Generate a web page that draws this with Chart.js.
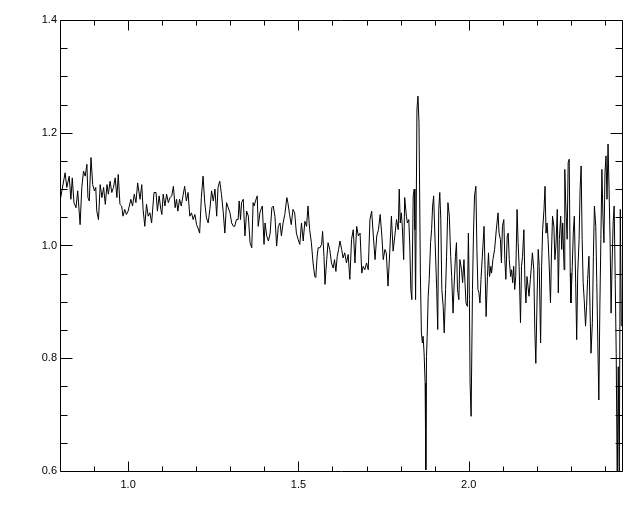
<!DOCTYPE html>
<html>
<head>
<meta charset="utf-8">
<script src="https://cdn.jsdelivr.net/npm/chart.js"></script>
<style>
html, body { margin: 0; padding: 0; background: #fff; }
</style>
</head>
<body>
<canvas id="myChart" width="640" height="512"></canvas>
<script>
// spectrum
const wave = [
  0.800, 0.815, 0.820, 0.827, 0.832, 0.836, 0.841, 0.847, 0.852, 0.859, 0.864, 0.869, 0.874, 0.879, 0.882, 0.886,
  0.891, 0.896, 0.901, 0.905, 0.908, 0.913, 0.918, 0.923, 0.928, 0.933, 0.938, 0.942, 0.947, 0.952, 0.957, 0.962,
  0.967, 0.971, 0.976, 0.981, 0.985, 0.990, 0.995, 1.000, 1.008, 1.013, 1.018, 1.023, 1.028, 1.035,
  1.040, 1.044, 1.049, 1.054, 1.059, 1.064, 1.069, 1.076, 1.082, 1.086, 1.091, 1.096, 1.099, 1.103, 1.108, 1.113,
  1.118, 1.123, 1.128, 1.133, 1.138, 1.142, 1.146, 1.151, 1.156, 1.161, 1.166, 1.171, 1.176, 1.181, 1.186, 1.191,
  1.196, 1.201, 1.205, 1.210, 1.215, 1.220, 1.225, 1.230, 1.235, 1.240, 1.245, 1.250, 1.255, 1.260, 1.264, 1.269,
  1.274, 1.279, 1.284,
  1.289, 1.294, 1.299, 1.304, 1.309, 1.313, 1.318, 1.323, 1.326, 1.330, 1.333, 1.338, 1.343, 1.348, 1.353, 1.358,
  1.363, 1.367, 1.370, 1.374, 1.379, 1.382, 1.387, 1.390, 1.394, 1.399, 1.402, 1.407, 1.412, 1.417, 1.422, 1.426,
  1.431, 1.436, 1.441, 1.446, 1.450, 1.455, 1.460, 1.466, 1.469, 1.474, 1.479, 1.484, 1.489, 1.494, 1.499, 1.504,
  1.509, 1.514, 1.519, 1.524, 1.528, 1.533, 1.538,
  1.543, 1.548, 1.551, 1.555, 1.558, 1.563, 1.568, 1.571, 1.575, 1.578, 1.583, 1.587, 1.592, 1.597, 1.602, 1.606,
  1.610, 1.614, 1.618, 1.622, 1.627, 1.631, 1.636, 1.641, 1.646, 1.651, 1.656, 1.661, 1.666, 1.671, 1.676, 1.681,
  1.686, 1.690, 1.695, 1.700, 1.705, 1.710, 1.715, 1.720, 1.725, 1.730, 1.735, 1.740, 1.745, 1.749, 1.754, 1.758,
  1.763, 1.768, 1.773, 1.778, 1.783, 1.788, 1.793, 1.796,
  1.799, 1.802, 1.805, 1.809, 1.812, 1.817, 1.820, 1.824, 1.827, 1.830, 1.833, 1.837, 1.840, 1.842, 1.844, 1.848,
  1.851, 1.854, 1.858, 1.861, 1.864, 1.866, 1.869, 1.872, 1.874, 1.876, 1.878, 1.881, 1.884, 1.888, 1.891, 1.894,
  1.897, 1.901, 1.906, 1.909, 1.912, 1.915, 1.918, 1.921, 1.925, 1.928, 1.932, 1.935, 1.939, 1.943,
  1.947, 1.950, 1.954, 1.957, 1.961, 1.964, 1.967, 1.971, 1.974, 1.979, 1.982, 1.986, 1.989, 1.992, 1.996, 1.999,
  2.002, 2.004, 2.007, 2.011, 2.014, 2.017, 2.021, 2.024, 2.027, 2.030, 2.033, 2.036, 2.040, 2.045, 2.048, 2.051,
  2.055, 2.058, 2.061, 2.065, 2.067, 2.071, 2.076, 2.081, 2.086, 2.089, 2.093, 2.096, 2.099, 2.103,
  2.106, 2.109, 2.113, 2.116, 2.119, 2.123, 2.126, 2.129, 2.132, 2.135, 2.138, 2.142, 2.145, 2.148, 2.152, 2.155,
  2.158, 2.162, 2.165, 2.168, 2.171, 2.174, 2.177, 2.181, 2.184, 2.187, 2.191, 2.194, 2.197, 2.201, 2.204, 2.207,
  2.211, 2.214, 2.217, 2.221, 2.224, 2.227, 2.230, 2.233, 2.236, 2.240, 2.243, 2.246, 2.250, 2.253, 2.256, 2.260,
  2.263, 2.266, 2.270, 2.273, 2.276, 2.280, 2.282, 2.285, 2.289, 2.292, 2.295, 2.298, 2.300, 2.304, 2.307, 2.310,
  2.314, 2.317, 2.320, 2.324, 2.327, 2.330, 2.333, 2.336, 2.339, 2.343, 2.346, 2.349, 2.353, 2.356, 2.359, 2.363,
  2.366, 2.369, 2.373, 2.376, 2.379, 2.382, 2.385, 2.388, 2.391, 2.394, 2.397, 2.400, 2.403, 2.406, 2.409, 2.412,
  2.415, 2.418, 2.421, 2.424, 2.427, 2.430, 2.433, 2.436, 2.439, 2.442, 2.445, 2.448
];
const flux = [
  1.078, 1.129, 1.103, 1.123, 1.082, 1.120, 1.076, 1.067, 1.097, 1.037, 1.103, 1.132, 1.123, 1.144, 1.085, 1.079,
  1.156, 1.108, 1.097, 1.103, 1.061, 1.046, 1.108, 1.085, 1.103, 1.073, 1.108, 1.091, 1.114, 1.094, 1.103, 1.120,
  1.085, 1.126, 1.073, 1.070, 1.052, 1.064, 1.055, 1.061, 1.082, 1.070, 1.091, 1.076, 1.111, 1.082,
  1.108, 1.064, 1.034, 1.073, 1.052, 1.058, 1.040, 1.094, 1.094, 1.061, 1.088, 1.064, 1.055, 1.091, 1.070, 1.091,
  1.076, 1.085, 1.088, 1.105, 1.067, 1.082, 1.061, 1.082, 1.070, 1.088, 1.105, 1.079, 1.094, 1.052, 1.058, 1.046,
  1.055, 1.037, 1.031, 1.022, 1.085, 1.123, 1.076, 1.049, 1.040, 1.064, 1.097, 1.079, 1.100, 1.052, 1.103, 1.114,
  1.091, 1.061, 1.022,
  1.076, 1.067, 1.058, 1.040, 1.034, 1.034, 1.046, 1.046, 1.079, 1.046, 1.076, 1.082, 1.017, 1.061, 1.052, 1.005,
  0.996, 1.076, 1.070, 1.079, 1.088, 1.034, 1.058, 1.064, 1.070, 1.002, 1.040, 1.017, 1.008, 1.022, 1.067, 1.070,
  1.052, 0.999, 1.034, 1.040, 1.017, 1.040, 1.055, 1.085, 1.076, 1.055, 1.037, 1.064, 1.058, 1.022, 1.011, 1.002,
  1.040, 1.008, 1.043, 1.034, 1.070, 1.028, 1.005,
  0.969, 0.945, 0.943, 0.981, 0.996, 0.996, 1.002, 1.025, 0.981, 0.931, 0.975, 1.005, 0.993, 0.969, 0.960, 0.975,
  0.954, 0.981, 0.993, 1.008, 0.993, 0.978, 0.987, 0.969, 0.984, 0.940, 1.011, 1.028, 0.969, 1.034, 1.017, 1.022,
  0.951, 0.963, 0.957, 0.969, 0.957, 1.046, 1.061, 1.017, 0.975, 1.017, 1.028, 1.055, 1.017, 0.975, 0.993, 0.987,
  0.928, 0.987, 1.052, 0.990, 1.017, 1.046, 1.028, 1.100,
  1.040, 1.058, 1.034, 0.975, 1.085, 1.052, 1.040, 1.046, 0.999, 0.922, 0.904, 1.088, 1.100, 1.028, 0.904, 1.242,
  1.265, 1.218, 0.951, 0.845, 0.827, 0.839, 0.809, 0.756, 0.602, 0.803, 0.839, 0.910, 0.940, 1.005, 1.028, 1.070,
  1.088, 1.011, 0.922, 0.851, 1.064, 1.094, 1.046, 0.922, 0.892, 0.845, 0.922, 0.981, 1.076, 1.052,
  0.981, 0.945, 0.880, 0.928, 0.981, 1.005, 0.922, 0.904, 0.975, 0.957, 0.934, 0.975, 0.934, 0.898, 0.892, 1.022,
  0.904, 0.756, 0.697, 0.922, 1.022, 1.088, 1.105, 0.993, 0.922, 0.916, 0.898, 0.940, 0.981, 1.034, 0.957, 0.874,
  0.945, 0.987, 0.945, 0.963, 0.951, 0.975, 0.993, 1.028, 1.058, 1.022, 1.011, 0.969, 1.034, 1.046,
  0.975, 0.940, 1.017, 1.022, 0.975, 0.945, 0.957, 0.934, 0.963, 0.922, 0.945, 1.064, 1.005, 0.963, 0.863, 0.963,
  0.981, 1.028, 0.934, 0.898, 0.945, 0.928, 0.910, 0.940, 0.963, 0.987, 0.957, 0.851, 0.791, 0.916, 0.993, 0.963,
  0.827, 0.963, 1.028, 1.064, 1.105, 1.022, 1.040, 1.011, 0.969, 0.898, 0.987, 1.052, 1.034, 0.975, 0.999, 1.064,
  0.916, 1.011, 1.052, 0.993, 1.040, 0.957, 1.135, 1.070, 1.011, 1.147, 1.153, 0.951, 0.898, 0.963, 1.022, 1.052,
  0.934, 0.833, 0.951, 1.011, 1.100, 1.141, 1.011, 0.934, 0.904, 0.857, 0.892, 0.940, 0.981, 0.892, 0.809, 0.863,
  0.981, 1.070, 1.034, 0.934, 0.827, 0.726, 0.892, 1.011, 1.135, 1.052, 1.005, 1.129, 1.159, 1.082, 1.180, 1.100,
  1.011, 0.880, 0.969, 1.040, 1.070, 0.940, 0.809, 0.580, 0.785, 0.580, 1.064, 0.857
];

const xRange = [0.8, 2.45];
const yRange = [0.6, 1.4];
const xTicks = [1.0, 1.5, 2.0];
const xMinorTicks = [0.9, 1.1, 1.2, 1.3, 1.4, 1.6, 1.7, 1.8, 1.9, 2.1, 2.2, 2.3, 2.4];
const yTicks = [0.6, 0.8, 1.0, 1.2, 1.4];
const yMinorTicks = [0.65, 0.7, 0.75, 0.85, 0.9, 0.95, 1.05, 1.1, 1.15, 1.25, 1.3, 1.35];

// IDL style box: frame with inward ticks on all four sides
const boxTicks = {
    id: 'boxTicks',
    afterDraw(chart) {
        const ctx = chart.ctx;
        const a = chart.chartArea;
        const x = chart.scales.x, y = chart.scales.y;
        const L = Math.round(a.left) + 0.5, R = Math.round(a.right) + 0.5;
        const T = Math.round(a.top) + 0.5, B = Math.round(a.bottom) + 0.5;
        ctx.save();
        ctx.strokeStyle = '#000';
        ctx.lineWidth = 1;
        ctx.beginPath();
        ctx.rect(L, T, R - L, B - T);
        const xt = (v, len) => {
            const p = Math.round(x.getPixelForValue(v)) + 0.5;
            ctx.moveTo(p, B); ctx.lineTo(p, B - len);
            ctx.moveTo(p, T); ctx.lineTo(p, T + len);
        };
        const yt = (v, len) => {
            const p = Math.round(y.getPixelForValue(v)) + 0.5;
            ctx.moveTo(L, p); ctx.lineTo(L + len, p);
            ctx.moveTo(R, p); ctx.lineTo(R - len, p);
        };
        xTicks.forEach(v => xt(v, 10));
        xMinorTicks.forEach(v => xt(v, 5));
        yTicks.forEach(v => yt(v, 12));
        yMinorTicks.forEach(v => yt(v, 7));
        ctx.stroke();
        ctx.restore();
    }
};

const labelFont = { family: "'Liberation Sans', Arial, sans-serif", size: 11 };

new Chart(document.getElementById('myChart'), {
    type: 'line',
    data: {
        datasets: [{
            data: wave.map((w, i) => ({ x: w, y: flux[i] })),
            borderColor: '#000',
            borderWidth: 1,
            pointRadius: 0,
            tension: 0,
            fill: false
        }]
    },
    options: {
        responsive: false,
        devicePixelRatio: 1,
        animation: false,
        layout: { padding: { top: 20, right: 18, left: 0, bottom: 0 } },
        plugins: { legend: { display: false }, tooltip: { enabled: false } },
        scales: {
            x: {
                type: 'linear',
                min: xRange[0],
                max: xRange[1],
                grid: { display: false, drawTicks: false },
                border: { display: false },
                afterBuildTicks: s => { s.ticks = xTicks.map(v => ({ value: v })); },
                afterFit: s => { s.height = 41; },
                ticks: {
                    color: '#000',
                    font: labelFont,
                    padding: 7,
                    maxRotation: 0,
                    autoSkip: false,
                    callback: v => v.toFixed(1)
                }
            },
            y: {
                type: 'linear',
                min: yRange[0],
                max: yRange[1],
                grid: { display: false, drawTicks: false },
                border: { display: false },
                afterBuildTicks: s => { s.ticks = yTicks.map(v => ({ value: v })); },
                afterFit: s => { s.width = 60; },
                ticks: {
                    color: '#000',
                    font: labelFont,
                    padding: 3,
                    callback: v => v.toFixed(1)
                }
            }
        }
    },
    plugins: [boxTicks]
});
</script>
</body>
</html>
